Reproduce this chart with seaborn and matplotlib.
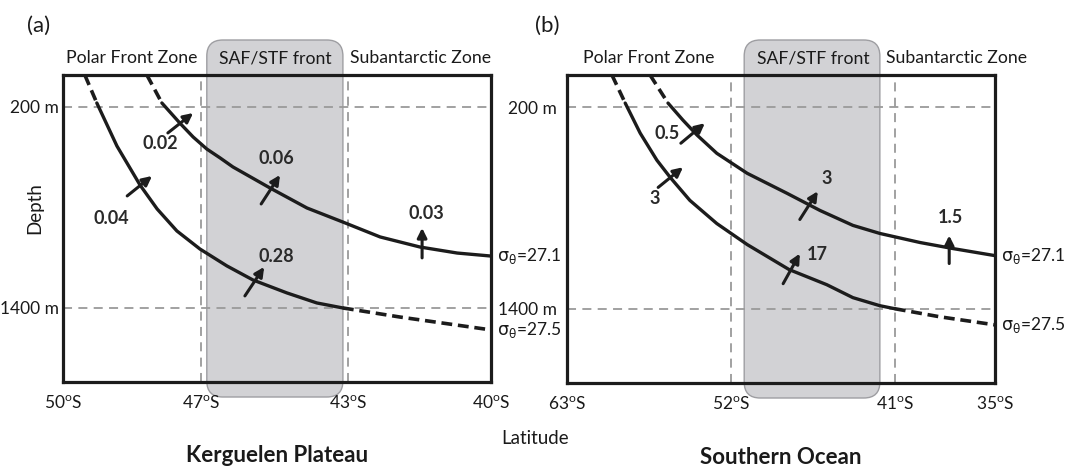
import matplotlib
matplotlib.use("Agg")
import matplotlib.pyplot as plt
from matplotlib.patches import FancyBboxPatch
from matplotlib.transforms import IdentityTransform
import seaborn as sns

sns.set_theme(style="white")
plt.rcParams['font.family'] = ['Lato', 'DejaVu Sans']
plt.rcParams['mathtext.fontset'] = 'dejavusans'

# ---------------------------------------------------------------
# Section data: position along the section (0 = poleward edge,
# 1 = equatorward edge) and depth in metres.
# ---------------------------------------------------------------
depth_ticks = [200, 1400]
depth_labels = ['200 m', '1400 m']
zone_names = ['Polar Front Zone', 'SAF/STF front', 'Subantarctic Zone']

# (a) Kerguelen Plateau
kp_lat_pos = [0.0, 0.322, 0.666, 1.0]
kp_lat_labels = ['50', '47', '43', '40']
kp_front = [0.336, 0.654]
kp_zone_pos = [0.161, 0.495, 0.836]

kp_271_x = [0.196, 0.231, 0.273, 0.304, 0.336, 0.367, 0.397, 0.484, 0.570,
            0.654, 0.741, 0.834, 0.921, 1.0]
kp_271_z = [9, 176, 296, 379, 451, 504, 558, 684, 803, 887, 976, 1036, 1072, 1090]
kp_271_solid = (1, 13)

kp_275_x = [0.051, 0.079, 0.126, 0.180, 0.220, 0.266, 0.320, 0.383, 0.444,
            0.523, 0.593, 0.654, 0.787, 1.0]
kp_275_z = [9, 176, 433, 666, 809, 940, 1048, 1149, 1233, 1310, 1370, 1400, 1454, 1531]
kp_275_solid = (1, 11)

kp_flux = ['0.02', '0.04', '0.06', '0.03', '0.28']
kp_arrow_tail = [(0.245, 355), (0.150, 731), (0.463, 779), (0.839, 1101), (0.425, 1328)]
kp_arrow_head = [(0.304, 236), (0.208, 612), (0.507, 606), (0.839, 922), (0.470, 1155)]
kp_flux_pos = [(0.227, 418), (0.114, 866), (0.498, 508), (0.850, 836), (0.498, 1090)]

# (b) Southern Ocean
so_lat_pos = [0.0, 0.383, 0.766, 1.0]
so_lat_labels = ['63', '52', '41', '35']
so_front = [0.414, 0.731]
so_zone_pos = [0.192, 0.576, 0.909]

so_271_x = [0.194, 0.236, 0.271, 0.304, 0.350, 0.421, 0.514, 0.591, 0.668,
            0.731, 0.825, 0.902, 1.0]
so_271_z = [9, 176, 278, 367, 475, 594, 713, 815, 904, 952, 1006, 1042, 1084]
so_271_solid = (1, 12)

so_275_x = [0.105, 0.136, 0.171, 0.210, 0.241, 0.287, 0.350, 0.421, 0.519,
            0.607, 0.668, 0.731, 0.766, 0.871, 1.0]
so_275_z = [9, 176, 355, 516, 618, 755, 893, 1018, 1167, 1257, 1334, 1382, 1400, 1448, 1496]
so_275_solid = (1, 12)

so_flux = ['0.5', '3', '3', '17', '1.5']
so_arrow_tail = [(0.266, 415), (0.213, 678), (0.544, 869), (0.505, 1251), (0.893, 1131)]
so_arrow_head = [(0.322, 296), (0.271, 558), (0.586, 701), (0.544, 1072), (0.893, 964)]
so_flux_pos = [(0.234, 358), (0.206, 745), (0.607, 627), (0.586, 1078), (0.895, 860)]

isopycnal_labels = [r'$\mathrm{\sigma_\theta}$=27.1', r'$\mathrm{\sigma_\theta}$=27.5']

W, H = 1065, 469
LINE = '#1c1c1c'
TEXT = '#1a1a1a'
GRID = '#9a9a9a'
FRONT_FC = '#d2d2d5'
FRONT_EC = '#9e9ea2'

fig = plt.figure(figsize=(W / 100, H / 100), dpi=100)
fig.patch.set_facecolor('white')


def px_axes(x0, y0, x1, y1):
    return fig.add_axes([x0 / W, 1 - y1 / H, (x1 - x0) / W, (y1 - y0) / H])


def draw_isopycnal(ax, xs, zs, solid):
    i0, i1 = solid
    sns.lineplot(x=xs[i0:i1 + 1], y=zs[i0:i1 + 1], sort=False, ax=ax,
                 color=LINE, lw=2.4, zorder=4)
    dash = (0, (3.0, 1.6))
    if i0 > 0:
        ax.plot(xs[:i0 + 1], zs[:i0 + 1], color=LINE, lw=2.6, linestyle=dash, zorder=4)
    if i1 < len(xs) - 1:
        ax.plot(xs[i1:], zs[i1:], color=LINE, lw=2.6, linestyle=dash, zorder=4)


def draw_panel(ax, lat_pos, lat_labels, front, zone_pos, curves,
               flux, tails, heads, label_pos, letter, letter_x, title, depth_pad):
    ax.set_facecolor('none')
    ax.set_xlim(0, 1)
    ax.set_ylim(1842, 9)

    # dashed reference lines
    for z in depth_ticks:
        ax.axhline(z, color=GRID, lw=1.3, ls=(0, (5, 3.5)), zorder=2)
    for xv in lat_pos[1:3]:
        ax.axvline(xv, color=GRID, lw=1.3, ls=(0, (5, 3.5)), zorder=2)

    for xs, zs, solid in curves:
        draw_isopycnal(ax, xs, zs, solid)

    for (tx, tz), (hx, hz) in zip(tails, heads):
        ax.annotate('', xy=(hx, hz), xytext=(tx, tz),
                    arrowprops=dict(arrowstyle='-|>', color=LINE, lw=2.2,
                                    mutation_scale=14, shrinkA=0, shrinkB=0),
                    zorder=5)
    for txt, (lx, lz) in zip(flux, label_pos):
        ax.text(lx, lz, txt, ha='center', va='center', fontsize=13,
                fontweight='bold', color='#2a2a2a', zorder=6)

    # isopycnal names at the right edge
    for (xs, zs, _), lab in zip(curves, isopycnal_labels):
        ax.text(1.014, zs[-1], lab, ha='left', va='center', fontsize=12.5,
                color=TEXT, transform=ax.get_yaxis_transform())

    ax.set_xticks(lat_pos)
    ax.set_xticklabels([f'{v}$^\\mathregular{{o}}$S' for v in lat_labels],
                       fontsize=12.5, color=TEXT)
    ax.set_yticks(depth_ticks)
    ax.set_yticklabels(depth_labels, fontsize=12.5, color=TEXT)
    ax.tick_params(axis='both', length=0)
    ax.tick_params(axis='x', pad=9)
    ax.tick_params(axis='y', pad=depth_pad)
    ax.set_xlabel('')
    ax.set_ylabel('')
    for sp in ax.spines.values():
        sp.set_visible(True)
        sp.set_color(LINE)
        sp.set_linewidth(2.3)
        sp.set_zorder(3)

    # front band (rounded box behind the axes contents)
    bb = ax.get_window_extent()
    fx0 = ax.transData.transform((front[0], 0))[0]
    fx1 = ax.transData.transform((front[1], 0))[0]
    y_lo = bb.y0 - 15
    y_hi = bb.y1 + 35
    band = FancyBboxPatch((fx0, y_lo), fx1 - fx0, y_hi - y_lo,
                          boxstyle='round,pad=0,rounding_size=16',
                          transform=IdentityTransform(), fc=FRONT_FC,
                          ec=FRONT_EC, lw=1.0, zorder=-1)
    fig.add_artist(band)

    for name, xp in zip(zone_names, zone_pos):
        ax.text(xp, 1.055, name, transform=ax.transAxes, ha='center',
                va='center', fontsize=12.7, color=TEXT)

    ax.text(letter_x, 1.16, letter, transform=ax.transAxes, ha='center',
            va='center', fontsize=16, color=TEXT)
    ax.text(0.5, -0.262, title, transform=ax.transAxes, ha='center',
            va='baseline', fontsize=16, fontweight='bold', color=TEXT)


ax_a = px_axes(63, 75, 491, 382)
ax_b = px_axes(567, 75, 995, 383)

draw_panel(ax_a, kp_lat_pos, kp_lat_labels, kp_front, kp_zone_pos,
           [(kp_271_x, kp_271_z, kp_271_solid), (kp_275_x, kp_275_z, kp_275_solid)],
           kp_flux, kp_arrow_tail, kp_arrow_head, kp_flux_pos,
           '(a)', -0.056, 'Kerguelen Plateau', 3)
draw_panel(ax_b, so_lat_pos, so_lat_labels, so_front, so_zone_pos,
           [(so_271_x, so_271_z, so_271_solid), (so_275_x, so_275_z, so_275_solid)],
           so_flux, so_arrow_tail, so_arrow_head, so_flux_pos,
           '(b)', -0.045, 'Southern Ocean', 7)

fig.text(535 / W, 1 - 438 / H, 'Latitude', ha='center', va='center',
         fontsize=13.5, color=TEXT)
fig.text(35 / W, 1 - 208 / H, 'Depth', ha='center', va='center',
         rotation=90, fontsize=13.5, color=TEXT)

fig.savefig('out.png', dpi=100, facecolor='white')
